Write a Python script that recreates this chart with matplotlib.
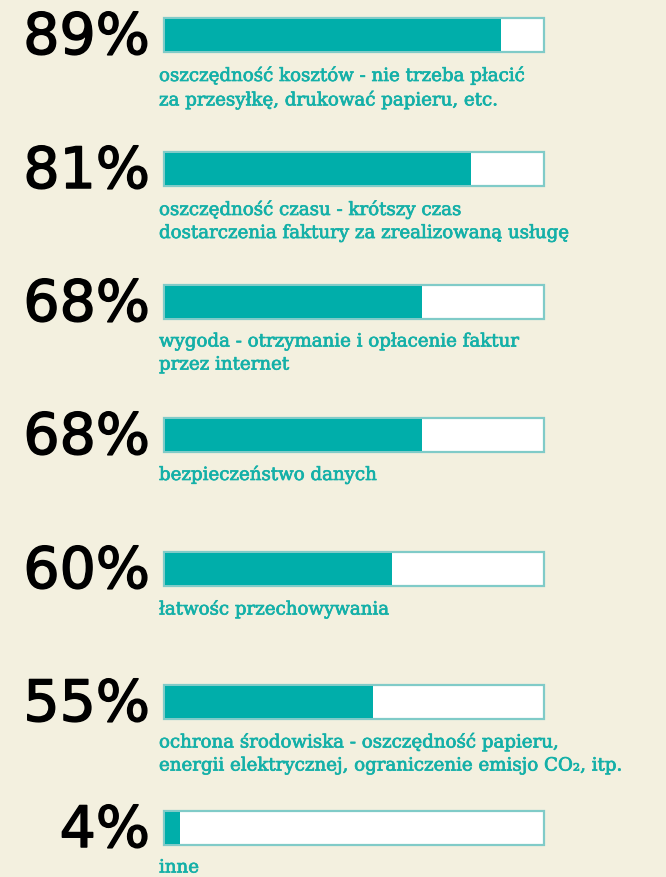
import matplotlib.pyplot as plt
import matplotlib.patheffects as pe

# dane z wykresu
values = [89, 81, 68, 68, 60, 55, 4]
labels = ["89%", "81%", "68%", "68%", "60%", "55%", "4%"]
captions = [
    "oszczędność kosztów - nie trzeba płacić\nza przesyłkę, drukować papieru, etc.",
    "oszczędność czasu - krótszy czas\ndostarczenia faktury za zrealizowaną usługę",
    "wygoda - otrzymanie i opłacenie faktur\nprzez internet",
    "bezpieczeństwo danych",
    "łatwośc przechowywania",
    "ochrona środowiska - oszczędność papieru,\nenergii elektrycznej, ograniczenie emisjo CO₂, itp.",
    "inne",
]

# układ (piksele)
row_top = [19, 153, 286, 419, 553, 686, 812]
bar_h = 34
x0 = 164
full_w = 380

bg = "#f3f0df"
teal = "#00aeaa"
edge = "#80cbc8"
text_teal = "#14b0a8"

fig = plt.figure(figsize=(6.66, 8.78), dpi=100, facecolor=bg)
ax = fig.add_axes([0, 0, 1, 1])
ax.set_xlim(0, 666)
ax.set_ylim(878, 0)
ax.axis("off")

centers = [t + bar_h / 2 for t in row_top]

# tło paska
ax.barh(centers, [full_w] * len(values), height=bar_h, left=x0,
        color="white", edgecolor=edge, linewidth=1.6, zorder=1)
# wypełnienie
inner = full_w - 2
ax.barh(centers, [v / 100 * inner for v in values], height=bar_h - 2,
        left=x0 + 1, color=teal, linewidth=0, zorder=2)

for c, t, lab, cap in zip(centers, row_top, labels, captions):
    ax.text(150, t + 36, lab, ha="right", va="baseline", fontsize=41,
            family="DejaVu Sans", color="black",
            path_effects=[pe.withStroke(linewidth=1.1, foreground="black")])
    ax.text(159, t + 47.5, cap, ha="left", va="top", fontsize=13.1,
            family="DejaVu Serif", color=text_teal, linespacing=1.36,
            path_effects=[pe.withStroke(linewidth=0.5, foreground=text_teal)])

fig.savefig("out.png", dpi=100, facecolor=bg)
